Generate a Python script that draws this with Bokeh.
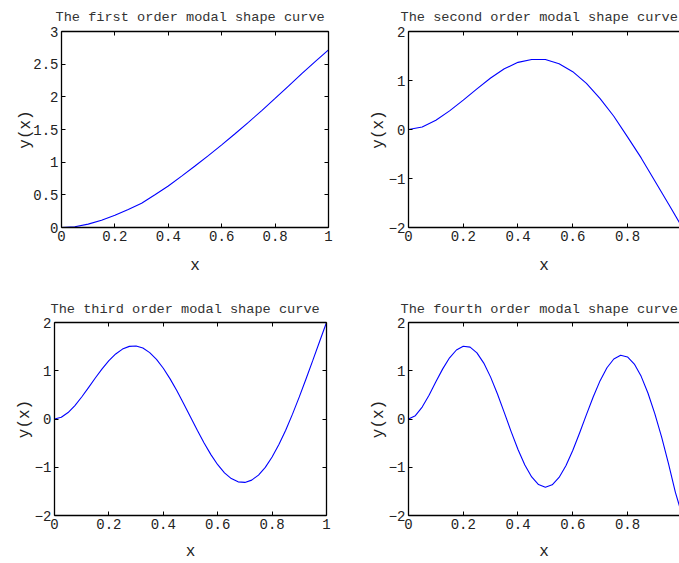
from bokeh.plotting import figure
from bokeh.layouts import column, row
from bokeh.models import Range1d, LinearAxis, FixedTicker
from bokeh.embed import file_html
from bokeh.resources import INLINE

# ---------------- data ----------------
x_coarse = [0, 0.05, 0.1, 0.15, 0.2, 0.25, 0.3, 0.35, 0.4, 0.45, 0.5,
            0.55, 0.6, 0.65, 0.7, 0.75, 0.8, 0.85, 0.9, 0.95, 1.0]
x_fine = [0, 0.025, 0.05, 0.075, 0.1, 0.125, 0.15, 0.175, 0.2, 0.225, 0.25,
          0.275, 0.3, 0.325, 0.35, 0.375, 0.4, 0.425, 0.45, 0.475, 0.5,
          0.525, 0.55, 0.575, 0.6, 0.625, 0.65, 0.675, 0.7, 0.725, 0.75,
          0.775, 0.8, 0.825, 0.85, 0.875, 0.9, 0.925, 0.95, 0.975, 1.0]

mode1 = [0, 0.012, 0.052, 0.112, 0.187, 0.277, 0.37, 0.50, 0.635, 0.787, 0.942,
         1.10, 1.265, 1.435, 1.61, 1.79, 1.975, 2.165, 2.355, 2.54, 2.72]
mode2 = [0, 0.05, 0.19, 0.38, 0.60, 0.83, 1.05, 1.24, 1.37, 1.43, 1.43,
         1.34, 1.18, 0.94, 0.63, 0.27, -0.15, -0.58, -1.05, -1.52, -2.0]
mode3 = [0, 0.036, 0.134, 0.279, 0.456, 0.651, 0.850, 1.039, 1.209, 1.348, 1.449,
         1.505, 1.513, 1.470, 1.376, 1.236, 1.052, 0.832, 0.584, 0.317, 0.040,
         -0.235, -0.498, -0.738, -0.947, -1.115, -1.235, -1.303, -1.314, -1.267, -1.162,
         -1.002, -0.789, -0.530, -0.232, 0.101, 0.458, 0.834, 1.220, 1.611, 2.0]
mode4 = [0, 0.069, 0.247, 0.494, 0.771, 1.039, 1.268, 1.430, 1.508, 1.489, 1.371,
         1.159, 0.868, 0.517, 0.132, -0.261, -0.631, -0.952, -1.201, -1.359, -1.414,
         -1.363, -1.211, -0.967, -0.653, -0.291, 0.090, 0.462, 0.795, 1.062, 1.243,
         1.320, 1.286, 1.139, 0.884, 0.534, 0.105, -0.381, -0.93, -1.52, -2.0]

titles = ["The first order modal shape curve", "The second order modal shape curve",
          "The third order modal shape curve", "The fourth order modal shape curve"]

x_ticks = [0, 0.2, 0.4, 0.6, 0.8, 1.0]
x_tick_labels = ["0", "0.2", "0.4", "0.6", "0.8", "1"]
y_ticks_first = [0, 0.5, 1, 1.5, 2, 2.5, 3]
y_labels_first = ["0", "0.5", "1", "1.5", "2", "2.5", "3"]
y_ticks_other = [-2, -1, 0, 1, 2]
y_labels_other = ["\u22122", "\u22121", "0", "1", "2"]

MONO = "Liberation Mono"


def style_axis(ax, ticks, labels, show_labels=True, label_standoff=4):
    ax.ticker = FixedTicker(ticks=ticks)
    ax.major_tick_in = 4
    ax.major_tick_out = 0
    ax.minor_tick_line_color = None
    ax.axis_line_color = "black"
    ax.axis_line_width = 1.3
    ax.major_tick_line_color = "black"
    ax.major_tick_line_width = 1
    ax.major_label_text_font = MONO
    ax.major_label_text_line_height = 1.0
    ax.axis_label_text_line_height = 1.0
    if show_labels:
        ax.major_label_overrides = {t: l for t, l in zip(ticks, labels)}
        ax.major_label_text_font_size = "14px"
        ax.major_label_text_color = "#222222"
        ax.major_label_standoff = 3
    else:
        ax.major_label_overrides = {t: "" for t in ticks}
        ax.major_label_text_font_size = "1px"
        ax.major_label_text_color = None
        ax.major_label_standoff = 0
    ax.axis_label_text_font = MONO
    ax.axis_label_text_font_size = "16px"
    ax.axis_label_text_font_style = "normal"
    ax.axis_label_text_color = "#222222"
    ax.axis_label_standoff = label_standoff


def panel(title, xs, ys, yr, yticks, ylabels, x_end, w, h, bl, br, bt, bb,
          mirror_right, xlab_standoff, ylab_standoff, title_offset, title_standoff):
    p = figure(width=w, height=h, x_range=Range1d(0, x_end), y_range=Range1d(*yr),
               output_backend="svg", toolbar_location=None, title=title,
               min_border_left=bl, min_border_right=br, min_border_top=bt,
               min_border_bottom=bb)
    p.title.text_font = MONO
    p.title.text_font_size = "13.6px"
    p.title.text_font_style = "normal"
    p.title.text_color = "#333333"
    p.title.align = "left"
    p.title.offset = title_offset
    p.title.standoff = title_standoff
    p.outline_line_color = None
    p.grid.visible = False
    p.background_fill_color = "white"
    p.border_fill_color = "white"

    p.line(xs, ys, line_color="#0000ff", line_width=1.1)

    style_axis(p.xaxis[0], x_ticks, x_tick_labels, True, xlab_standoff)
    p.xaxis[0].axis_label = "x"
    style_axis(p.yaxis[0], yticks, ylabels, True, ylab_standoff)
    p.yaxis[0].axis_label = "y(x)"

    top = LinearAxis()
    style_axis(top, x_ticks, x_tick_labels, False)
    p.add_layout(top, "above")
    if mirror_right:
        right = LinearAxis()
        style_axis(right, yticks, ylabels, False)
        p.add_layout(right, "right")
    return p


f1 = panel(titles[0], x_coarse, mode1, (0, 3), y_ticks_first, y_labels_first, 1.0,
           340, 290, 61, 12, 31, 63, True, 13, -5, -6, 13)
f2 = panel(titles[1], x_coarse, mode2, (-2, 2), y_ticks_other, y_labels_other, 0.99,
           339, 290, 68, 0, 31, 63, False, 13, -2, -8, 13)
f3 = panel(titles[2], x_fine, mode3, (-2, 2), y_ticks_other, y_labels_other, 1.0,
           340, 273, 54, 14, 32, 44, True, 11, -2, -4, 11)
f4 = panel(titles[3], x_fine, mode4, (-2, 2), y_ticks_other, y_labels_other, 0.99,
           339, 273, 68, 0, 32, 44, False, 11, -2, -8, 11)

layout = column(row(f1, f2), row(f3, f4))

open("out.html", "w").write(file_html(layout, INLINE))
